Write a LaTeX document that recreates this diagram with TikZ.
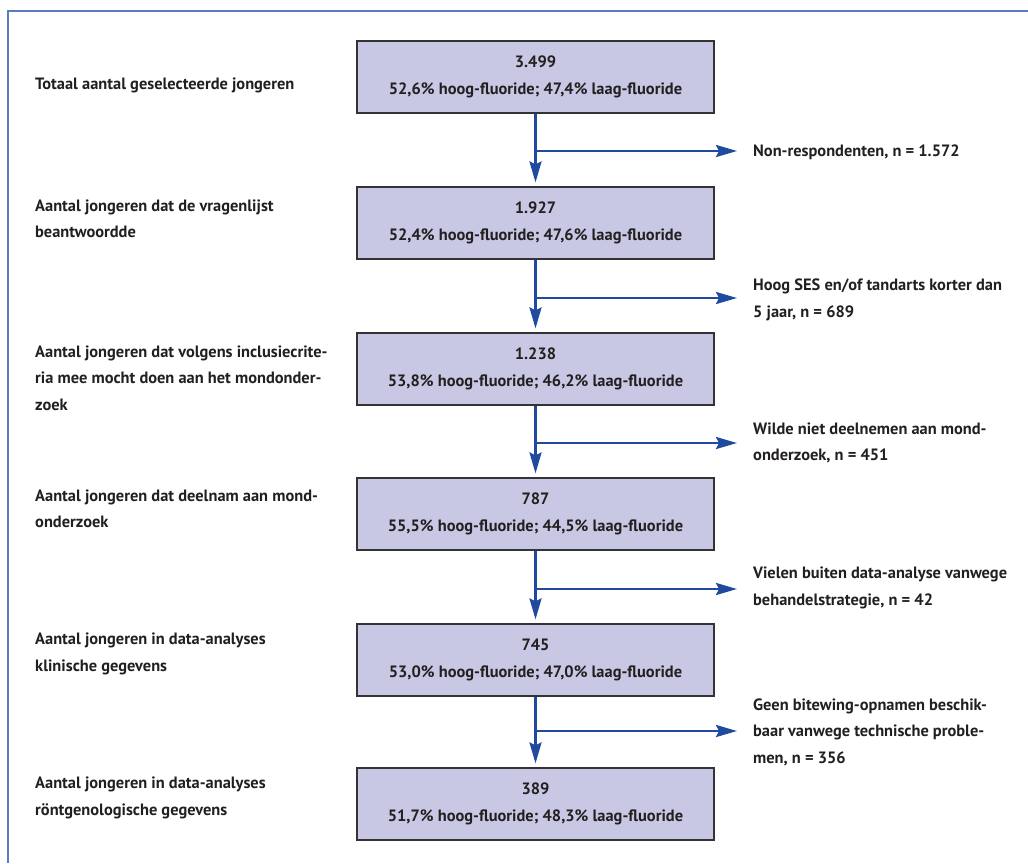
\documentclass[tikz,border=0pt]{standalone}
\usepackage{fontspec}
\setmainfont{PT Sans}
\usetikzlibrary{arrows.meta}
\definecolor{boxfill}{HTML}{C8C8E4}
\definecolor{arrowblue}{HTML}{1F4A9E}
\definecolor{framecol}{HTML}{5B7BC0}
\definecolor{txt}{HTML}{231F20}
\begin{document}
\begin{tikzpicture}[x=1pt,y=-1pt,
  every node/.style={font=\fontsize{16.4}{26.5}\selectfont\bfseries, text=txt, inner sep=0pt},
  box/.style={fill=boxfill, draw=black!80, line width=1.2pt, minimum width=357pt, minimum height=72pt, align=center},
  lbl/.style={anchor=west, align=left},
  arr/.style={draw=arrowblue, line width=2.5pt, -{Stealth[length=21pt,width=12pt,inset=3pt]}}]
\useasboundingbox (0,0) rectangle (1028,863);
\draw[framecol, line width=1.5pt] (8,863) -- (8,11) -- (1028,11);

\node[box] (b1) at (535.5,77) {3.499\\52,6\% hoog-fluoride; 47,4\% laag-fluoride};
\node[box] (b2) at (535.5,223) {1.927\\52,4\% hoog-fluoride; 47,6\% laag-fluoride};
\node[box] (b3) at (535.5,369) {1.238\\53,8\% hoog-fluoride; 46,2\% laag-fluoride};
\node[box] (b4) at (535.5,514) {787\\55,5\% hoog-fluoride; 44,5\% laag-fluoride};
\node[box] (b5) at (535.5,660) {745\\53,0\% hoog-fluoride; 47,0\% laag-fluoride};
\node[box] (b6) at (535.5,804) {389\\51,7\% hoog-fluoride; 48,3\% laag-fluoride};

\node[lbl] (l1) at (35,85) {Totaal aantal geselecteerde jongeren};
\node[lbl] (l2) at (35,219) {Aantal jongeren dat de vragenlijst\\beantwoordde};
\node[lbl] (l3) at (35,378) {Aantal jongeren dat volgens inclusiecrite-\\ria mee mocht doen aan het mondonder-\\zoek};
\node[lbl] (l4) at (35,509) {Aantal jongeren dat deelnam aan mond-\\onderzoek};
\node[lbl] (l5) at (35,654) {Aantal jongeren in data-analyses\\klinische gegevens};
\node[lbl] (l6) at (35,798) {Aantal jongeren in data-analyses\\röntgenologische gegevens};

\node[lbl] (s1) at (753,152) {Non-respondenten, n = 1.572};
\node[lbl] (s2) at (753,300) {Hoog SES en/of tandarts korter dan\\5 jaar, n = 689};
\node[lbl] (s3) at (753,443) {Wilde niet deelnemen aan mond-\\onderzoek, n = 451};
\node[lbl] (s4) at (753,588) {Vielen buiten data-analyse vanwege\\behandelstrategie, n = 42};
\node[lbl] (s5) at (753,732) {Geen bitewing-opnamen beschik-\\baar vanwege technische proble-\\men, n = 356};

\foreach \i/\j/\y in {1/2/151,2/3/298,3/4/443,4/5/589,5/6/731}{
  \coordinate (t\i) at (737,\y);
  \coordinate (j\i) at (b\i.south |- t\i);
  \draw[arr, shorten >=4pt] (b\i.south) -- (b\j.north);
  \draw[arr] (j\i) -- (t\i);
}
\end{tikzpicture}
\end{document}
